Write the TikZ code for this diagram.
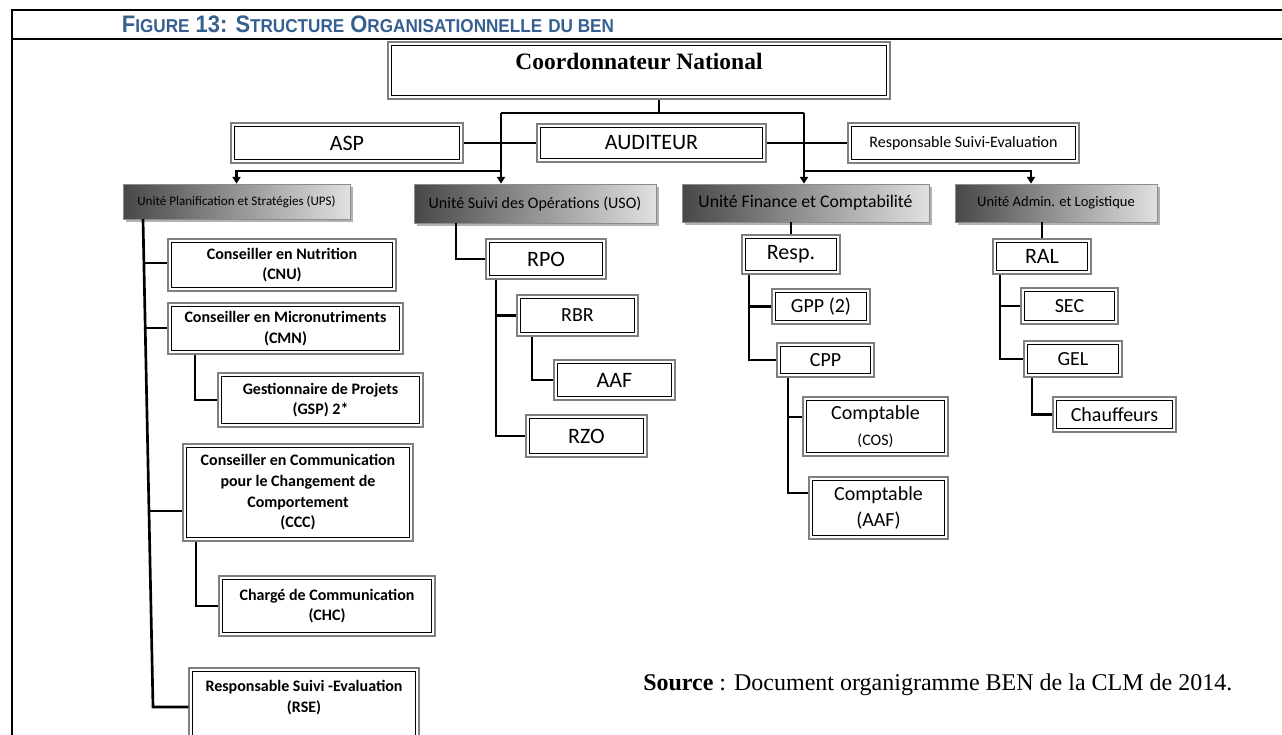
\documentclass[tikz,border=0pt]{standalone}
\usepackage{graphicx}
\usepackage{fontspec}
\setmainfont{Carlito}
\newfontfamily\serifface{Liberation Serif}
\newfontfamily\titleface{Liberation Sans}
\usetikzlibrary{arrows.meta,shadows}

\definecolor{titleblue}{RGB}{54,95,145}
\newcommand{\lowcap}[1]{{\fontsize{12.5}{12.5}\selectfont #1}}

\tikzset{
  frame/.style={line width=1.6pt},
  link/.style={line width=2pt},
  arr/.style={-{Triangle[width=6pt,length=5pt]}},
  sz/.style 2 args={minimum width=#1*0.75pt, minimum height=#2*0.75pt},
  dbox/.style={draw=black!50, line width=0.9pt, fill=white, inner sep=0pt, align=center,
    path picture={\draw[black, line width=0.8pt]
      ([shift={(2.3pt,2.3pt)}]path picture bounding box.south west) rectangle
      ([shift={(-2.3pt,-2.3pt)}]path picture bounding box.north east);}},
  unit/.style={draw=black!45, line width=0.6pt, inner sep=0pt,
    left color=black!72, middle color=black!38, right color=black!12,
    drop shadow={fill=black!30, shadow xshift=2pt, shadow yshift=-2pt, opacity=1}},
  bigtxt/.style={font=\fontsize{16.5}{20}\selectfont},
  normtxt/.style={font=\fontsize{15}{19}\selectfont},
  boldtxt/.style={font=\fontsize{12}{15.5}\selectfont\bfseries},
}

\begin{document}
\begin{tikzpicture}[x=0.75pt, y=-0.75pt]
    \useasboundingbox (0,0) rectangle (1282,735);

    % frame and caption
    \draw[frame] (1282,10) -- (12,10) -- (12,735);
    \draw[frame] (12,39) -- (1282,39);
    \node[anchor=base, inner sep=0pt, text=titleblue, font=\titleface\bfseries] (ttl) at (368,33)
      {\resizebox{369pt}{12.5pt}{\fontsize{16}{16}\selectfont F\lowcap{IGURE} 13: S\lowcap{TRUCTURE} O\lowcap{RGANISATIONNELLE} \lowcap{DU BEN}}};

    % top level
    \node[dbox, sz={502}{57}] (coord) at (639,70.5) {};
    \node[font=\serifface\bfseries\fontsize{17.6}{20}\selectfont] (coordtxt) at (639,62) {Coordonnateur National};
    \node[dbox, bigtxt, sz={232}{40}] (asp) at (347,143) {ASP};
    \node[dbox, bigtxt, sz={229}{38}] (aud) at (651.5,143) {AUDITEUR};
    \node[dbox, font=\fontsize{12}{14}\selectfont, sz={231}{40}] (rse) at (963.5,143) {Responsable Suivi-Evaluation};

    % units
    \node[unit, font=\fontsize{9.8}{12}\selectfont, sz={227}{35}] (ups) at (236.5,201.5) {Unité Planification et Stratégies (UPS)};
    \node[unit, font=\fontsize{12}{14}\selectfont, sz={242}{39}] (uso) at (535,203.5) {Unité Suivi des Opérations (USO)};
    \node[unit, font=\fontsize{13.3}{15}\selectfont, sz={247}{38}] (ufc) at (805.5,203) {Unité Finance et Comptabilité};
    \node[unit, font=\fontsize{10.9}{13}\selectfont, sz={202}{38}] (ual) at (1056,203) {Unité Admin. et Logistique};

    % UPS
    \node[dbox, boldtxt, sz={228}{52}] (cnu) at (282,265) {Conseiller en Nutrition\\(CNU)};
    \node[dbox, boldtxt, sz={235}{51}] (cmn) at (285.5,328.5) {Conseiller en Micronutriments\\(CMN)};
    \node[dbox, boldtxt, sz={205}{54}] (gsp) at (320.5,400) {Gestionnaire de Projets\\(GSP) 2*};
    \node[dbox, boldtxt, sz={230}{97}] (ccc) at (298,492.5) {Conseiller en Communication\\pour le Changement de\\Comportement\\(CCC)};
    \node[dbox, boldtxt, sz={216}{60}] (chc) at (327,606) {Chargé de Communication\\(CHC)};
    \node[dbox, boldtxt, sz={230}{78}] (rsu) at (304,707) {Responsable Suivi -Evaluation\\(RSE)\\\mbox{}};

    % USO
    \node[dbox, bigtxt, sz={120}{40}] (rpo) at (546,259) {RPO};
    \node[dbox, normtxt, sz={121}{41}] (rbr) at (577.5,315.5) {RBR};
    \node[dbox, bigtxt, sz={121}{40}] (aaf) at (614.5,380) {AAF};
    \node[dbox, bigtxt, sz={121}{42}] (rzo) at (586.5,436) {RZO};

    % finance
    \node[dbox, bigtxt, sz={98}{39}] (resp) at (791,254.5) {Resp.};
    \node[dbox, normtxt, sz={98}{35}] (gpp) at (821,306.5) {GPP (2)};
    \node[dbox, normtxt, sz={97}{34}] (cpp) at (825.5,360) {CPP};
    \node[dbox, normtxt, sz={145}{59}] (cos) at (875.5,426.5) {Comptable\\{\fontsize{12}{14}\selectfont (COS)}};
    \node[dbox, normtxt, sz={139}{62}] (caf) at (878.5,508) {Comptable\\(AAF)};

    % admin
    \node[dbox, bigtxt, sz={98}{35}] (ral) at (1042,256.5) {RAL};
    \node[dbox, normtxt, sz={97}{36}] (sec) at (1069.5,306) {SEC};
    \node[dbox, normtxt, sz={98}{36}] (gel) at (1073,359) {GEL};
    \node[dbox, normtxt, sz={123}{35}] (chf) at (1114.5,414.5) {Chauffeurs};

    % source
    \node[anchor=base west, inner sep=0pt, font=\serifface\fontsize{18}{20}\selectfont] (src) at (643,690)
      {\textbf{Source} : Document organigramme BEN de la CLM de 2014.};

    % links at the top
    \coordinate (jtop) at (659,113);
    \coordinate (jl) at (501,113);
    \coordinate (jr) at (804,113);
    \coordinate (jlow) at (0,171);
    \coordinate (jal) at (1031,171);
    \draw[link] (coord.south -| jtop) -- (jtop);
    \draw[link] (jl) -- (jr);
    \draw[link] (asp.east) -- (aud.west);
    \draw[link] (aud.east) -- (rse.west);
    \draw[link, arr] (jl) -- (uso.north -| jl);
    \draw[link, arr] (jr) -- (ufc.north -| jr);
    \draw[link, arr] (jl |- jlow) -| (ups.north);
    \draw[link, arr] (jr |- jlow) -- (jal) -- (ual.north -| jal);

    % UPS links
    \coordinate (u0) at (143,219);
    \coordinate (u1) at (144,263);
    \coordinate (u2) at (145,328);
    \coordinate (u3) at (149,511);
    \coordinate (u4) at (153,707);
    \draw[link] (u0) -- (u4) -- (u4 -| rsu.west);
    \draw[link] (u1) -- (u1 -| cnu.west);
    \draw[link] (u2) -- (u2 -| cmn.west);
    \draw[link] (u3) -- (u3 -| ccc.west);
    \coordinate (g1) at (195,0);
    \coordinate (g2) at (196,0);
    \draw[link] (cmn.south -| g1) |- (gsp.west);
    \draw[link] (ccc.south -| g2) |- (chc.west);

    % USO links
    \coordinate (o1) at (456,0);
    \coordinate (o2) at (496,0);
    \coordinate (o3) at (532,0);
    \draw[link] (uso.south -| o1) |- (rpo.west);
    \draw[link] (rpo.south -| o2) |- (rzo.west);
    \draw[link] (o2 |- rbr.west) -- (rbr.west);
    \draw[link] (rbr.south -| o3) |- (aaf.west);

    % finance links
    \coordinate (f1) at (749,0);
    \coordinate (f2) at (788,0);
    \coordinate (f3) at (788,417);
    \coordinate (f4) at (788,493);
    \draw[link] (ufc.south -| resp.north) -- (resp.north);
    \draw[link] (resp.south -| f1) |- (cpp.west);
    \draw[link] (f1 |- gpp.west) -- (gpp.west);
    \draw[link] (cpp.south -| f2) -- (f4) -- (f4 -| caf.west);
    \draw[link] (f3) -- (f3 -| cos.west);

    % admin links
    \coordinate (a1) at (1000,0);
    \coordinate (a2) at (1032,0);
    \draw[link] (ual.south -| ral.north) -- (ral.north);
    \draw[link] (ral.south -| a1) |- (gel.west);
    \draw[link] (a1 |- sec.west) -- (sec.west);
    \draw[link] (gel.south -| a2) |- (chf.west);
\end{tikzpicture}
\end{document}
